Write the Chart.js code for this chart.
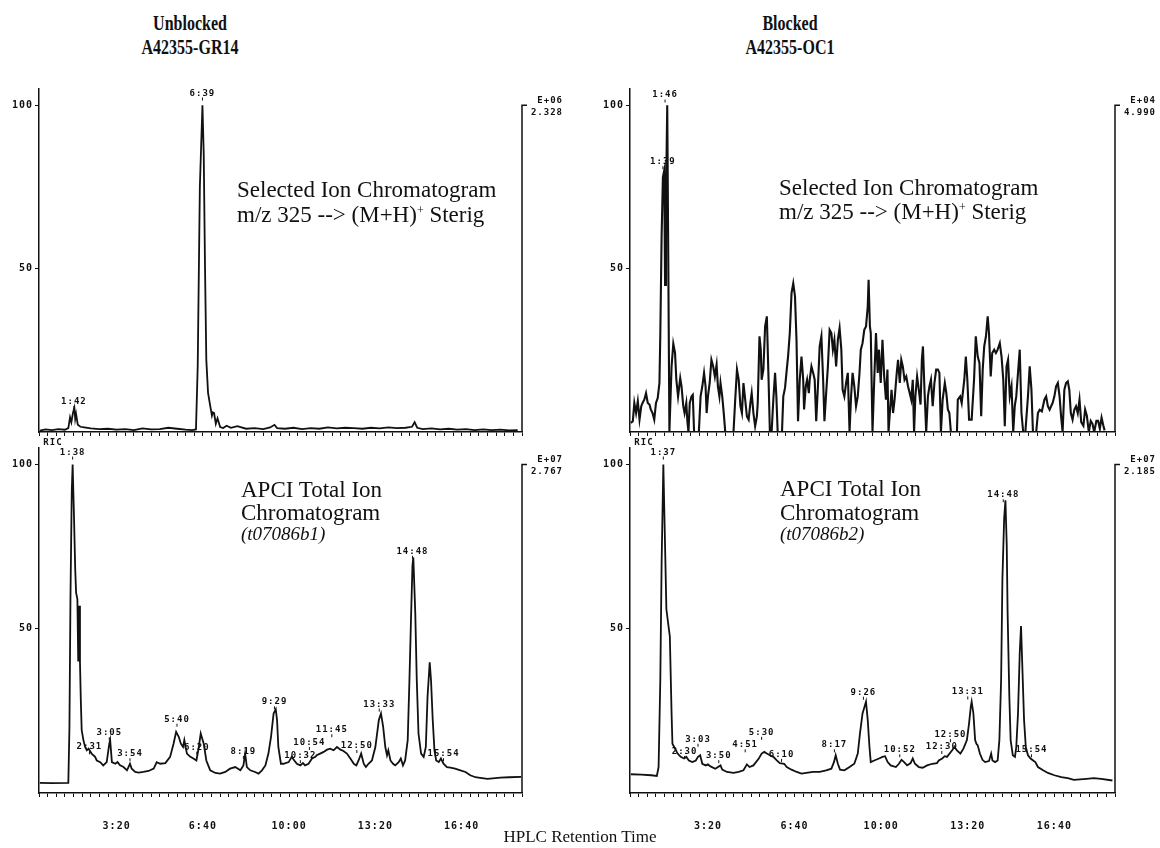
<!DOCTYPE html>
<html>
<head>
<meta charset="utf-8">
<title>HPLC Retention Time</title>
<script src="https://cdn.jsdelivr.net/npm/chart.js@4.4.1/dist/chart.umd.min.js"></script>
<style>
  body { margin: 0; background: #fff; }
  #page { position: relative; width: 1160px; height: 848px; overflow: hidden; font-family: "Liberation Serif", "Times New Roman", serif; color: #111; }
  canvas { position: absolute; }
  .ttl { position: absolute; width: 200px; text-align: center; font-weight: bold; font-size: 20px; line-height: 24px; transform: scaleX(0.8); }
  .nt { position: absolute; font-size: 23px; line-height: 23px; white-space: nowrap; }
  .nt.it { font-style: italic; font-size: 19px; line-height: 19px; }
  .nt sup { font-size: 12px; line-height: 0; vertical-align: 8px; }
  #xt { position: absolute; left: 380px; width: 400px; top: 828px; text-align: center; font-size: 17px; line-height: 17px; }
</style>
</head>
<body>
<div id="page">
  <canvas id="tl" width="580" height="360" style="left:0;top:80px"></canvas>
  <canvas id="tr" width="580" height="360" style="left:580px;top:80px"></canvas>
  <canvas id="bl" width="580" height="418" style="left:0;top:430px"></canvas>
  <canvas id="br" width="580" height="418" style="left:580px;top:430px"></canvas>

  <div class="ttl" style="left:90px;top:11px">Unblocked<br>A42355-GR14</div>
  <div class="ttl" style="left:690px;top:11px">Blocked<br>A42355-OC1</div>

  <div class="nt" style="left:237px;top:178px">Selected Ion Chromatogram</div>
  <div class="nt" style="left:237px;top:203px">m/z 325 --&gt; (M+H)<sup>+</sup> Sterig</div>
  <div class="nt" style="left:779px;top:176px">Selected Ion Chromatogram</div>
  <div class="nt" style="left:779px;top:200px">m/z 325 --&gt; (M+H)<sup>+</sup> Sterig</div>

  <div class="nt" style="left:241px;top:478px">APCI Total Ion</div>
  <div class="nt" style="left:241px;top:501px">Chromatogram</div>
  <div class="nt it" style="left:241px;top:524px">(t07086b1)</div>
  <div class="nt" style="left:780px;top:477px">APCI Total Ion</div>
  <div class="nt" style="left:780px;top:501px">Chromatogram</div>
  <div class="nt it" style="left:780px;top:524px">(t07086b2)</div>

  <div id="xt">HPLC Retention Time</div>
</div>

<script>
// retention time axis, seconds
const xMin = 20, xMax = 1140;
const yTicks = [50, 100];

// Unblocked, selected ion m/z 325
const tTL = [22,35,50,65,80,88,92,95,99,102,
  104,106,110,116,125,140,160,180,200,220,
  240,260,280,300,320,340,360,375,384,388,
  393,399,402,405,408,412,417,421,423,426,
  430,434,440,447,455,465,480,500,520,540,
  556,566,572,590,610,630,650,670,690,710,
  730,750,770,790,810,830,850,870,885,891,
  897,910,930,950,970,990,1010,1030,1050,1070,
  1090,1110,1130];
const vTL = [0.4,0.8,0.6,0.9,0.7,1.2,4.5,3.0,6.0,7.4,
  4.0,5.5,2.2,1.6,1.4,1.1,0.9,1.0,0.7,0.9,
  0.6,1.1,0.8,0.9,1.3,1.0,0.7,0.6,0.8,20,
  75,100,85,50,22,12,8,5,6,5.8,
  2.5,4.2,1.5,1.2,1.9,1.3,1.8,1.0,1.2,0.9,
  1.4,2.2,1.2,1.0,1.3,0.9,1.2,1.0,1.4,1.1,
  1.3,1.2,1.0,1.3,1.1,1.4,1.2,1.3,1.6,3.0,
  1.3,0.9,1.1,0.8,1.0,0.7,0.9,0.6,0.8,0.6,
  0.7,0.5,0.6];

// Blocked, selected ion m/z 325
const tTR = [22,26.5,30,34,38,42,46,49,53,57,
  61,65,68,72,76,80,84,88,90,93,
  96,99,101,103,106,108,111,116,120,124,
  127,131,136,139,143,146,150,152.5,155,158,
  162,165,168,179,183,187,191,194.5,197,200,
  204,208,212,216,220,223,226.5,229,233,236.5,
  240,259,263,267,271,275,278.5,282,286,290,
  294,298,301,305,309,313,315,319,322,324,
  328,332,336,340,343,347,351,355,358,361,
  366,371,374,378,382,385,389,393,397,401,
  404.5,408,412,416,420,422,426,429,433,435,
  439,443,446.5,450,454,458,462,466,469,473,
  477,481,485,488.5,492,496,500,504,508,511,
  515,519,523,527,530.5,534,538,542,546,550,
  553,557,561,565,569,571,574,576,580,584,
  588,592,595,599,603,607,611,614.5,617,620,
  624,627.5,631,636,639,643,646.5,650,654,658,
  662,666,669.5,673,676,679,683,687,691,694,
  696.5,700,704,708,711.5,715,719,723,727,731,
  734.5,738,742,747,750.5,754,757.5,761,775,777,
  782.5,786,792,795.5,799,803,809,814.5,818.5,823,
  827,831,834.5,838,842,846,849,853,856.5,861,
  865,869,874,878,882,885.5,889.5,893,897,901,
  905,908.5,912,916,920,924,928,933,939,943,
  947,950.5,958,962,966,971,977,981,985,989,
  992.5,996,1000,1004,1008,1012,1015.5,1019,1023,1027,
  1031,1034.5,1038,1042,1046,1050,1054,1058,1062,1067,
  1071,1075,1079.5,1084,1088,1092,1097,1101,1105,1109,
  1113,1116];
const vTR = [2.8,3.3,8.9,5.8,9.4,3.8,7.9,8.9,9.9,11.9,
  8.9,8.4,6.9,5.8,3.8,8.9,10.4,15,30,60,
  78,80,45,70,100,60,0,20.1,27,24.2,
  16,10.9,16.5,14,7.9,5.8,8.9,3.3,0,8.9,
  10.9,11.4,0,0,10.9,14,18.1,14,5.8,10.9,
  15,22.1,20.1,17,20.6,14,10.9,15,10.9,5.8,
  0,0,9.9,19.1,16,7.9,5.8,15,9.9,4.8,
  3.8,8.9,11.9,5.8,1.8,4.8,8.9,29.3,25.2,16,
  19.1,32.3,35.4,16,0,0,9.9,18.1,10.9,0,
  0,0,10.9,13.5,19.1,23.1,30.3,42.5,45.5,41.5,
  28.2,3.3,16,23.1,16,6.9,14,16,11.9,16,
  20.1,18.1,16,3.3,14,26.2,29.3,16,3.3,11.9,
  20.1,31.3,30.3,25.2,28.2,20.1,28.2,31.8,25.2,13,
  10.9,15,18.1,0,10.9,18.1,14,7.9,10.9,18.1,
  25.2,27.2,31.3,32.3,38.4,46.6,32.3,30.3,0,16,
  30.3,18.1,25.2,15,28.2,17,9.9,19.1,0,5.8,
  12.9,5.8,9.9,18.1,22.1,15,22.1,20.1,16,17,
  14,11.9,9.9,16,0,10.9,17,12.9,8.4,22.1,
  26.2,13,0,10.9,14,16,7.9,15,19.1,19.1,
  18.1,0,9.9,15,11.9,6.9,5.8,0,0,9.9,
  10.9,8.9,16,23.1,16,3.8,3.8,16,29.3,23.1,
  21.1,4.8,19.1,26.2,29.3,35.4,30.3,17,24.2,25.2,
  24.2,25.2,27.2,23.1,16,1.8,20.1,22.1,10.9,14,
  0,7.9,10.9,18.1,25.2,5.8,0,0,10.9,20.1,
  13,0,0,5.8,6.8,6.3,9.9,10.9,7.9,6.8,
  7.9,8.9,10.9,14,15,10.9,4.8,0,12.9,15,
  15.5,12.9,5.8,3.8,6.8,7.9,5.8,9.9,3,1.9,
  6.9,5,0,3.4,2.5,0,3.4,3.4,1,4.4,
  2,0.5];

// Unblocked, total ion current
const tBL = [22,50,88,90.6,93,96,98,101,104,106,
  109,111,113,115,117,119,123,127,131,135,
  142,150,154,162,169,177,183,185,189,197,
  202,208,216,224,231,235,243,251,262,274,
  286,293,301,313,324,332,338,344,349,354,
  357,363,371,378,385,390,395,402,408,417,
  429,440,452,463,475,487,494,498,502,510,
  521,529,537,545,552,558,564,569,572,575,
  581,587,599,606,612,618,626,632,637,645,
  653,661,664,672,680,688,695,703,711,719,
  726,734,742,750,756,761,767,773,778,784,
  792,800,808,813,818,823,827,830,835,841,
  846,854,859,864,869,875,879,883,886,888,
  892.5,896,900,906,912,917,921,926,929,933,
  937,941,947,952,958,966,974,985,997,1009,
  1020,1032,1043,1060,1090,1110,1138];
const vBL = [3.1,3.0,3.1,20,60,92,100,85,68,61,
  59,40,57,40,28,19.1,16.1,14,13,13.5,
  12,11,9.9,9.4,8.4,9.4,15,16.1,9.4,8.9,
  9.4,8.4,7.9,6.9,8.9,7.4,6.4,6.2,6.4,6.7,
  7.4,9.4,8.9,9.1,11,15,18.6,17.1,15,14,
  16.1,12,11,10.5,9.9,13.5,18.1,15,9.9,6.9,
  6.1,5.9,6.4,7.4,7.9,6.9,8.4,12,7.9,6.9,
  6.4,5.9,6.9,8.4,12,17.1,24.2,25.5,22.2,14,
  8.9,8.9,9.4,11,9.9,8.9,8.4,9.1,8.4,8.9,
  10.5,11,11.5,12,12.5,13.2,13.5,13,14,13.2,
  12.8,12,10.5,8.9,8.4,9.9,12,8.9,7.9,8.9,
  9.9,14,22.2,24.2,20.2,14,11.5,13,9.9,8.9,
  8.4,9.4,10.5,8.4,9.9,16.1,34.4,54.9,69.2,71.7,
  54.9,34.4,18.1,12,11,14,29.4,39.8,34.4,22.2,
  13,9.9,9.4,10.5,8.9,7.9,7.7,7.4,6.9,6.4,
  5.4,4.8,4.6,4.3,4.7,4.8,4.9];

// Blocked, total ion current
const tBR = [22,46,69,82,86,90,93,97,101,104,
  107,112,116,118,122,130,137,145,150,156,
  164,172,177,182,187,195,200,206,217,229,
  233,244,259,271,282,290,296,305,317,324,
  330,336,343,351,359,366,376,382,393,405,
  416,427,443,458,473,485,491,495,500,505,
  515,527,538,546,551,557,565,569,573,576,
  584,595,603,609,615,622,634,641,647,653,
  660,668,673,678,687,696,706,718,729,733,
  741,747,752,764,769,775,783,790,798,803,
  807,809,813,817,820,823,828,834,840,849,
  854,857,863,869,873,877,880,884,887,890,
  892,896,899,904,909,912,916,920,923,926,
  930,934,939,945,951,956,962,974,985,1000,
  1016,1031,1045,1074,1091,1108,1134];
const vBR = [5.7,5.6,5.4,5.2,7.9,34.5,70,100,75,56,
  52.8,47.7,24.2,15,14,12,11,10.5,11,9.9,
  9.4,9.9,11,11.5,8.9,8.4,8.7,8.1,7.4,8.4,
  7.1,6.4,6.1,6.4,6.9,8.7,7.9,8.4,10.4,12,
  12.5,12,11.5,11,9.9,9.1,8.9,7.9,7.1,6.4,
  5.9,6.1,6.4,6.4,6.9,7.4,9.4,11.5,8.9,7.1,
  6.9,7.9,8.9,12,18.1,24.2,27.8,22.2,14,9.4,
  9.9,10.5,11,11.2,9.4,8.4,7.9,8.9,10.1,9.4,
  8.4,9.1,10.5,8.9,7.9,7.7,8.4,8.9,9.1,9.9,
  10.5,11.2,11,13,14,13,12,13.5,16.1,21.2,
  26.3,27.8,24.2,16.1,15,14.5,12,10.1,9.4,9.7,
  12,9.9,9.4,9.9,16.1,34.4,65.1,83.5,89.1,75.3,
  54.9,29.3,16.1,11.5,11,14,24.2,42.6,50.8,38.5,
  22.2,14,11.5,10.5,9.9,9.4,7.9,6.9,6.1,5.4,
  4.8,4.5,4,4.3,4.5,4.3,3.8];

// peak annotations: [time s, label height %, text]
const pkTL = [[399, 103, '6:39'], [101, 8.6, '1:42']];
const pkTR = [[101, 102.4, '1:46'], [96, 82, '1:39']];
const pkBL = [[98, 103, '1:38'], [137, 13.3, '2:31'], [183, 17.6, '3:05'], [231, 11.2, '3:54'],
  [340, 21.7, '5:40'], [386, 13.2, '6:20'], [494, 11.9, '8:19'], [566, 27, '9:29'],
  [626, 10.6, '10:32'], [647, 14.6, '10:54'], [699, 18.5, '11:45'], [757, 13.7, '12:50'],
  [809, 26.3, '13:33'], [886, 72.8, '14:48'], [958, 11.2, '15:54']];
const pkBR = [[97, 103, '1:37'], [146, 11.9, '2:30'], [177, 15.6, '3:03'], [225, 10.6, '3:50'],
  [286, 13.9, '4:51'], [324, 17.7, '5:30'], [370, 11, '6:10'], [492, 13.9, '8:17'],
  [559, 29.9, '9:26'], [643, 12.4, '10:52'], [740, 13.4, '12:30'], [760, 17, '12:50'],
  [800, 30, '13:31'], [882, 90, '14:48'], [947, 12.4, '15:54']];

// full-scale intensity of each trace
const scaleTL = ['E+06', '2.328'];
const scaleTR = ['E+04', '4.990'];
const scaleBL = ['E+07', '2.767'];
const scaleBR = ['E+07', '2.185'];

const ink = '#111';
const mono = '"DejaVu Sans Mono", monospace';
const mmss = s => Math.floor(s / 60) + ':' + String(s % 60).padStart(2, '0');

const deco = {
  tl: { peaks: pkTL, exp: scaleTL, ric: false },
  tr: { peaks: pkTR, exp: scaleTR, ric: false },
  bl: { peaks: pkBL, exp: scaleBL, ric: true },
  br: { peaks: pkBR, exp: scaleBR, ric: true }
};

// peak labels, right intensity axis, RIC tag
const marks = {
  id: 'marks',
  beforeDraw(chart) { chart.ctx.letterSpacing = '1px'; },
  afterDraw(chart) {
    const d = deco[chart.canvas.id];
    const { ctx, chartArea: a, scales: { x, y } } = chart;
    ctx.save();
    ctx.fillStyle = ink;
    ctx.strokeStyle = ink;
    ctx.font = 'bold 9px ' + mono;
    ctx.letterSpacing = '1px';
    ctx.textAlign = 'center';
    ctx.textBaseline = 'alphabetic';
    ctx.lineWidth = 1;
    d.peaks.forEach(([t, v, s]) => {
      const px = x.getPixelForValue(t), py = y.getPixelForValue(v);
      ctx.fillText(s, px, py);
      ctx.beginPath();
      ctx.moveTo(px, py + 2);
      ctx.lineTo(px, py + 5);
      ctx.stroke();
    });
    const top = y.getPixelForValue(100);
    ctx.lineWidth = 1.5;
    ctx.beginPath();
    ctx.moveTo(a.right + 5, top);
    ctx.lineTo(a.right, top);
    ctx.lineTo(a.right, a.bottom);
    ctx.stroke();
    ctx.textAlign = 'right';
    ctx.textBaseline = 'middle';
    ctx.fillText(d.exp[0], a.right + 41, top - 5);
    ctx.fillText(d.exp[1], a.right + 41, top + 7);
    if (d.ric) {
      ctx.textAlign = 'center';
      ctx.fillText('RIC', a.left + 14, a.top - 5);
    }
    ctx.restore();
  }
};

function panel(id, t, v, o) {
  const pts = t.map((x, i) => ({ x, y: v[i] }));
  return new Chart(document.getElementById(id), {
    type: 'line',
    data: {
      datasets: [{ data: pts, borderColor: ink, borderWidth: o.lw, pointRadius: 0, tension: 0, fill: false }]
    },
    options: {
      responsive: false,
      animation: false,
      events: [],
      layout: { padding: { left: 0, top: o.top, right: o.right, bottom: 0 } },
      plugins: { legend: { display: false }, tooltip: { enabled: false } },
      scales: {
        x: {
          type: 'linear', min: xMin, max: xMax,
          afterFit: s => { s.height = o.xh; },
          border: { color: ink, width: 1.5 },
          grid: { drawOnChartArea: false, tickLength: 4, color: ink },
          ticks: {
            stepSize: 20, includeBounds: false, autoSkip: false, maxRotation: 0, padding: 23,
            color: ink, font: { family: mono, size: 10, weight: 'bold' },
            callback: s => (o.labels && Math.round(s) % 200 === 0) ? mmss(Math.round(s)) : ''
          }
        },
        y: {
          min: 0, max: 105,
          afterFit: s => { s.width = o.yw; },
          afterBuildTicks: s => { s.ticks = yTicks.map(value => ({ value })); },
          border: { color: ink, width: 1.5 },
          grid: { drawOnChartArea: false, tickLength: 4, color: ink },
          ticks: { padding: 2, color: ink, font: { family: mono, size: 10, weight: 'bold' } }
        }
      }
    },
    plugins: [marks]
  });
}

panel('tl', tTL, vTL, { yw: 39, right: 58, top: 9, xh: 7, labels: false, lw: 1.8 });
panel('tr', tTR, vTR, { yw: 50, right: 45, top: 9, xh: 7, labels: false, lw: 2.1 });
panel('bl', tBL, vBL, { yw: 39, right: 58, top: 18, xh: 55, labels: true, lw: 1.8 });
panel('br', tBR, vBR, { yw: 50, right: 45, top: 18, xh: 55, labels: true, lw: 1.8 });
</script>
</body>
</html>
